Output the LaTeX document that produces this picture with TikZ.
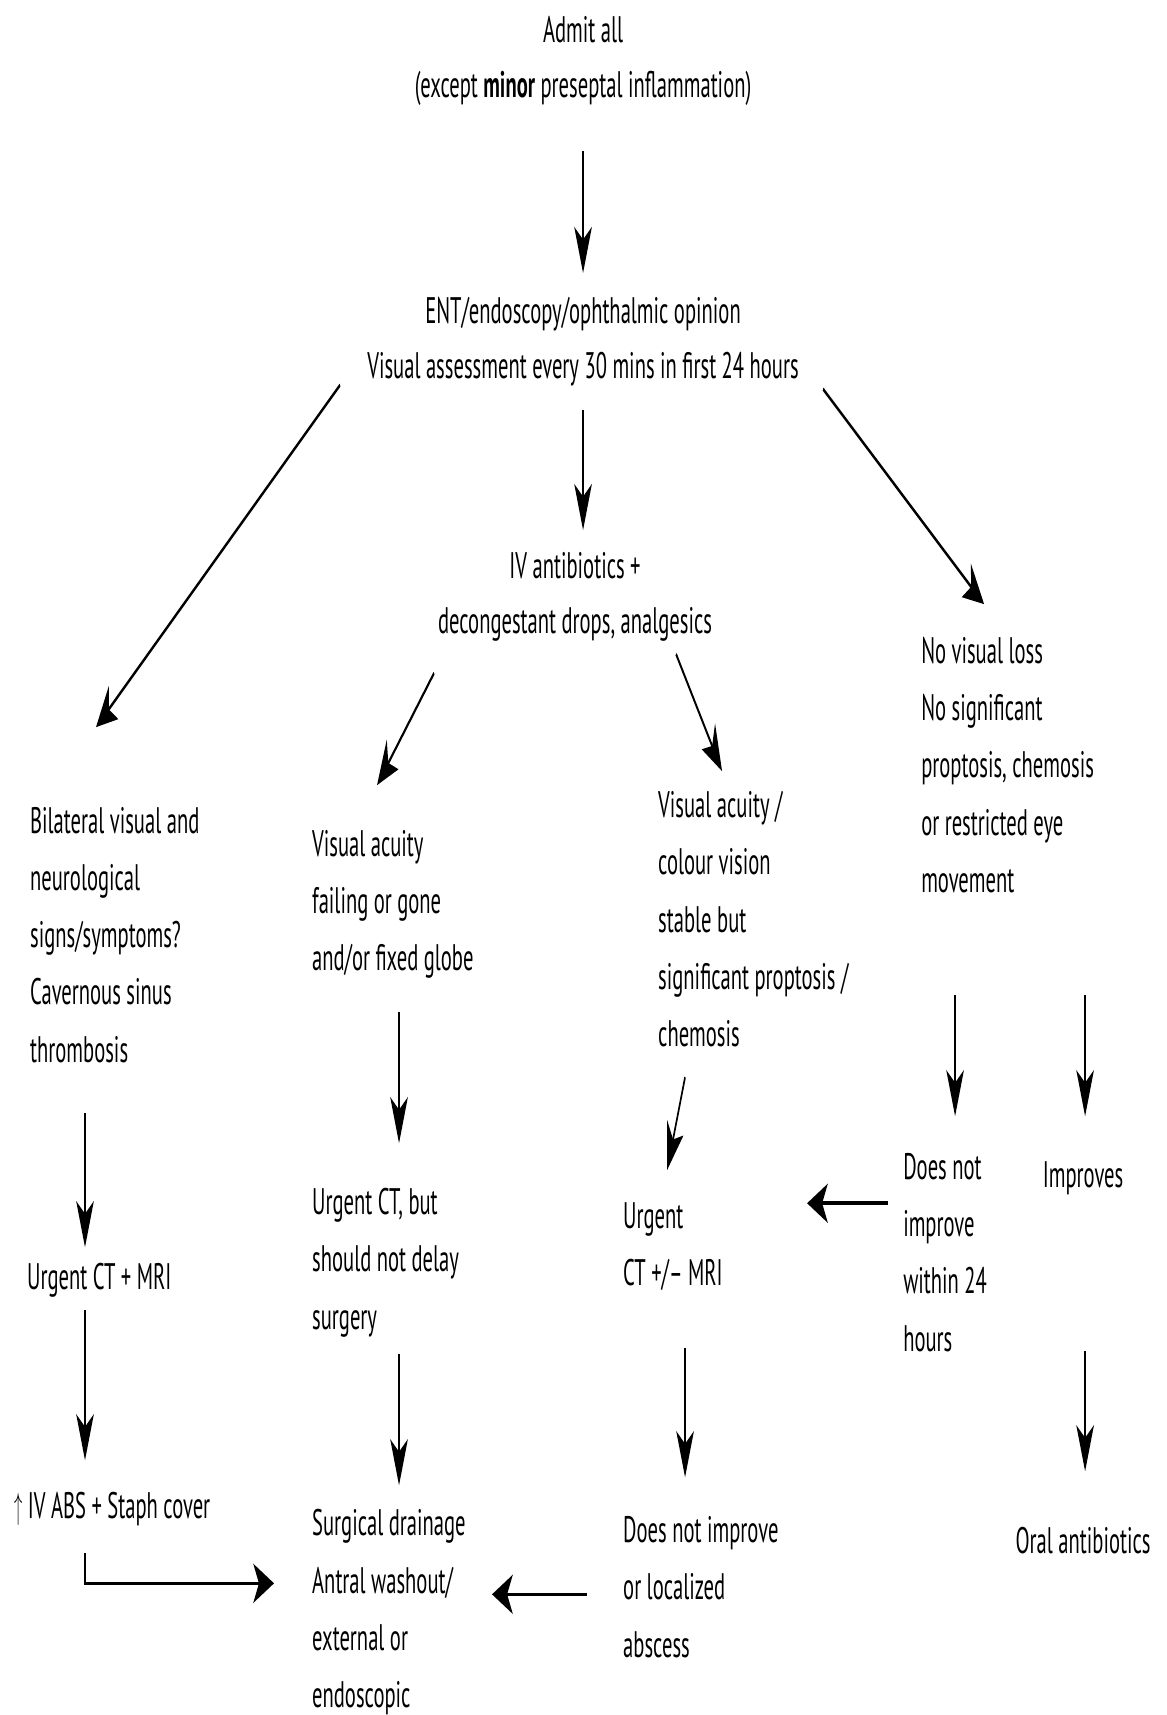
\documentclass[tikz,border=0pt]{standalone}
\usepackage{fontspec}
\setmainfont[FakeStretch=1.24]{PT Sans}
\usetikzlibrary{arrows.meta}
\tikzset{txt/.style={anchor=north west, align=left, inner sep=0pt, font=\fontsize{21}{32.5}\selectfont},
ctxt/.style={anchor=north, align=center, inner sep=0pt, font=\fontsize{21}{31.3}\selectfont},
arr/.style={line width=2pt, -{Stealth[length=0.92cm, width=0.78cm, inset=0.25cm]}}}

\begin{document}
\begin{tikzpicture}
\useasboundingbox (0,0) rectangle (23.32,-34.3);
\begin{scope}[x=0.044444cm, y=-0.02cm, transform canvas={xscale=0.45}]
\node[ctxt] (admit) at (583,16) {Admit all\\(except \textbf{minor} preseptal inflammation)};
\node[ctxt] (ent) at (583,297) {ENT/endoscopy/ophthalmic opinion\\Visual assessment every 30 mins in first 24 hours};
\node[ctxt] (iv) at (575,552) {IV antibiotics +\\decongestant drops, analgesics};
\node[txt] (bil) at (30,807) {Bilateral visual and\\neurological\\signs/symptoms?\\Cavernous sinus\\thrombosis};
\node[txt] (vaf) at (312,830) {Visual acuity\\failing or gone\\and/or fixed globe};
\node[txt] (vas) at (658,791) {Visual acuity /\\colour vision\\stable but\\significant proptosis /\\chemosis};
\node[txt] (nvl) at (921,637) {No visual loss\\No significant\\proptosis, chemosis\\or restricted eye\\movement};
\node[txt] (ctmri) at (27,1263) {Urgent CT + MRI};
\node[txt] (ctbut) at (312,1188) {Urgent CT, but\\should not delay\\surgery};
\node[txt] (ctpm) at (623,1202) {Urgent\\CT +/– MRI};
\node[txt] (staph) at (14,1492) {$\uparrow$ IV ABS + Staph cover};
\node[txt] (surg) at (312,1509) {Surgical drainage\\Antral washout/\\external or\\endoscopic};
\node[txt] (dni) at (623,1516) {Does not improve\\or localized\\abscess};
\node[txt] (dni24) at (903,1153) {Does not\\improve\\within 24\\hours};
\node[ctxt] (impr) at (1083,1161) {Improves};
\node[ctxt] (oral) at (1083,1527) {Oral antibiotics};

\draw[arr] ([shift={(0,135)}]admit.north) -- ([shift={(0,-24)}]ent.north);
\draw[arr] ([shift={(-243,88)}]ent.north) -- ([shift={(66,-80)}]bil.north west);
\draw[arr] ([shift={(0,113)}]ent.north) -- ([shift={(8,-22)}]iv.north);
\draw[arr] ([shift={(240,92)}]ent.north) -- ([shift={(63,-33)}]nvl.north west);
\draw[arr] ([shift={(-141,121)}]iv.north) -- ([shift={(65,-45)}]vaf.north west);
\draw[arr] ([shift={(101,102)}]iv.north) -- ([shift={(64,-20)}]vas.north west);
\draw[arr] ([shift={(55,306)}]bil.north west) -- ([shift={(58,-16)}]ctmri.north west);
\draw[arr] ([shift={(58,47)}]ctmri.north west) -- ([shift={(71,-32)}]staph.north west);
\draw[arr] ([shift={(71,61)}]staph.north west) |- ([shift={(-38,74)}]surg.north west);
\draw[arr] ([shift={(87,182)}]vaf.north west) -- ([shift={(87,-45)}]ctbut.north west);
\draw[arr] ([shift={(87,166)}]ctbut.north west) -- ([shift={(87,-24)}]surg.north west);
\draw[arr] ([shift={(27,286)}]vas.north west) -- ([shift={(44,-32)}]ctpm.north west);
\draw[arr] ([shift={(62,146)}]ctpm.north west) -- ([shift={(62,-39)}]dni.north west);
\draw[arr] ([shift={(-36,78)}]dni.north west) -- ([shift={(180,85)}]surg.north west);
\draw[arr] ([shift={(34,358)}]nvl.north west) -- ([shift={(52,-37)}]dni24.north west);
\draw[arr] ([shift={(164,358)}]nvl.north west) -- ([shift={(2,-45)}]impr.north);
\draw[arr] ([shift={(-15,50)}]dni24.north west) -- ([shift={(184,1)}]ctpm.north west);
\draw[arr] ([shift={(2,190)}]impr.north) -- ([shift={(2,-56)}]oral.north);
\end{scope}
\end{tikzpicture}
\end{document}
